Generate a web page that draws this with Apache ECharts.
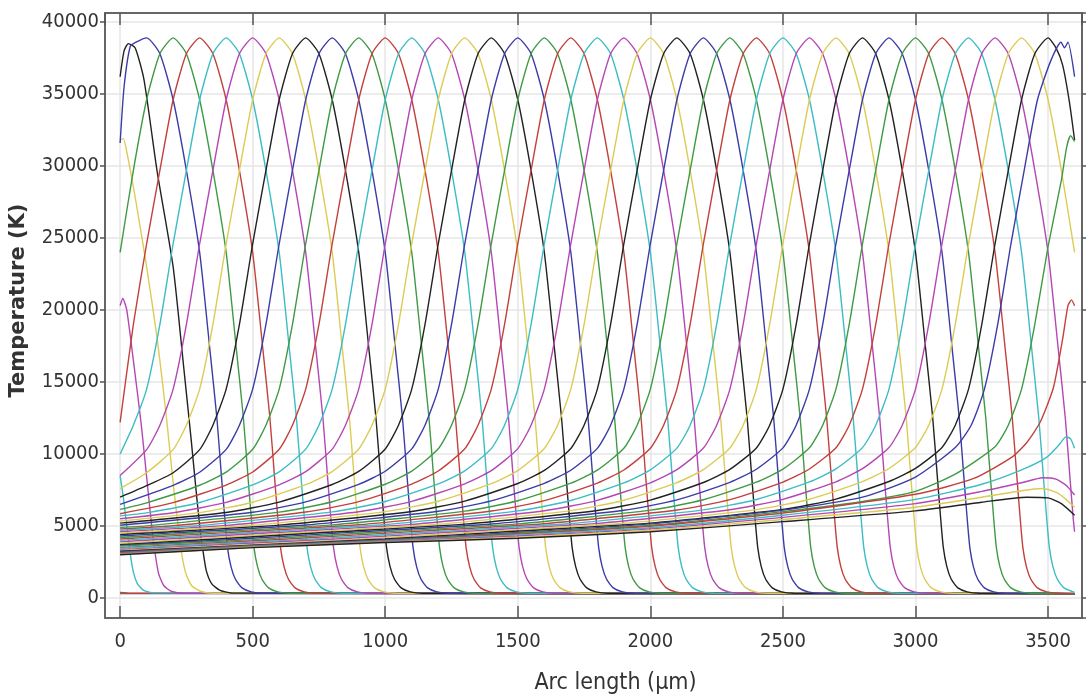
<!DOCTYPE html>
<html><head><meta charset="utf-8">
<script src="https://cdn.jsdelivr.net/npm/echarts@6/dist/echarts.min.js"></script>
<style>html,body{margin:0;padding:0;background:#fff}#c{width:1086px;height:694px}</style>
</head><body><div id="c"></div>
<script>
// ---- data: temperature profiles (x in µm, T in K), in time order ----
const S_blue=[[0,300],[3600,300]];
const S_green=[[0,320],[3600,310]];
const S_red=[[0,380],[40,330],[3600,310]];
const S_cyan=[[0,8500],[12,7000],[25,5000],[38,3100],[50,1800],[65,1000],[87,550],[120,360],[3600,310]];
const S_magenta=[[0,20300],[10,20800],[25,20000],[50,16500],[80,12000],[105,7500],[122,4500],[132,3100],[145,1700],[165,850],[195,450],[240,330],[3600,300]];
const S_yellow=[[0,31800],[12,31900],[25,31000],[60,27500],[100,23000],[140,18000],[175,12500],[200,8000],[220,4800],[232,3100],[248,1700],[270,850],[305,450],[350,330],[3600,300]];
const S_black=[[0,36200],[15,38000],[31,38500],[57,38200],[90,36000],[139,29700],[200,23000],[240,16000],[268,11000],[289,7000],[305,4200],[314,3100],[325,1900],[345,1000],[375,550],[420,350],[3600,300]];
const P100=[[0,31600],[15,35500],[38,38300],[60,38600],[100,38900],[150,37800],[200,34600],[250,29700],[300,24000],[340,17000],[365,12500],[382,8500],[395,5500],[405,3500],[418,2200],[435,1300],[460,700],[495,420],[540,330],[3600,300]];
const P200=[[0,24000],[50,29700],[100,34600],[150,37800],[200,38900],[250,37800],[300,34600],[350,29700],[400,24000],[440,17000],[465,12500],[482,8500],[495,5500],[505,3500],[518,2200],[535,1300],[560,700],[595,420],[640,330],[3600,300]];
const P300=[[0,12200],[50,19000],[100,24600],[150,29700],[200,34600],[250,37800],[300,38900],[350,37800],[400,34600],[450,29700],[500,24000],[540,17000],[565,12500],[582,8500],[595,5500],[605,3500],[618,2200],[635,1300],[660,700],[695,420],[740,330],[3600,300]];
const P400=[[0,10000],[50,12000],[100,14500],[150,19000],[200,24600],[250,29700],[300,34600],[350,37800],[400,38900],[450,37800],[500,34600],[550,29700],[600,24000],[640,17000],[665,12500],[682,8500],[695,5500],[705,3500],[718,2200],[735,1300],[760,700],[795,420],[840,330],[3600,300]];
const P500=[[0,8500],[100,10300],[150,12000],[200,14500],[250,19000],[300,24600],[350,29700],[400,34600],[450,37800],[500,38900],[550,37800],[600,34600],[650,29700],[700,24000],[740,17000],[765,12500],[782,8500],[795,5500],[805,3500],[818,2200],[835,1300],[860,700],[895,420],[940,330],[3600,300]];
const P600=[[0,7600],[100,8700],[200,10300],[250,12000],[300,14500],[350,19000],[400,24600],[450,29700],[500,34600],[550,37800],[600,38900],[650,37800],[700,34600],[750,29700],[800,24000],[840,17000],[865,12500],[882,8500],[895,5500],[905,3500],[918,2200],[935,1300],[960,700],[995,420],[1040,330],[3600,300]];
const P700=[[0,7000],[100,7800],[200,8700],[300,10300],[350,12000],[400,14500],[450,19000],[500,24600],[550,29700],[600,34600],[650,37800],[700,38900],[750,37800],[800,34600],[850,29700],[900,24000],[940,17000],[965,12500],[982,8500],[995,5500],[1005,3500],[1018,2200],[1035,1300],[1060,700],[1095,420],[1140,330],[3600,300]];
const P800=[[0,6500],[200,7820],[300,8730],[400,10320],[450,12000],[500,14500],[550,19000],[600,24600],[650,29700],[700,34600],[750,37800],[800,38900],[850,37800],[900,34600],[950,29700],[1000,24000],[1040,17000],[1065,12500],[1082,8500],[1095,5500],[1105,3500],[1118,2200],[1135,1300],[1160,700],[1195,420],[1240,330],[3600,300]];
const P900=[[0,6150],[100,6610],[300,7830],[400,8740],[500,10325],[550,12000],[600,14500],[650,19000],[700,24600],[750,29700],[800,34600],[850,37800],[900,38900],[950,37800],[1000,34600],[1050,29700],[1100,24000],[1140,17000],[1165,12500],[1182,8500],[1195,5500],[1205,3500],[1218,2200],[1235,1300],[1260,700],[1295,420],[1340,330],[3600,300]];
const P1000=[[0,5850],[200,6620],[400,7840],[500,8750],[600,10330],[650,12000],[700,14500],[750,19000],[800,24600],[850,29700],[900,34600],[950,37800],[1000,38900],[1050,37800],[1100,34600],[1150,29700],[1200,24000],[1240,17000],[1265,12500],[1282,8500],[1295,5500],[1305,3500],[1318,2200],[1335,1300],[1360,700],[1395,420],[1440,330],[3600,300]];
const P1100=[[0,5700],[100,5910],[300,6630],[500,7850],[600,8760],[700,10335],[750,12000],[800,14500],[850,19000],[900,24600],[950,29700],[1000,34600],[1050,37800],[1100,38900],[1150,37800],[1200,34600],[1250,29700],[1300,24000],[1340,17000],[1365,12500],[1382,8500],[1395,5500],[1405,3500],[1418,2200],[1435,1300],[1460,700],[1495,420],[1540,330],[3600,300]];
const P1200=[[0,5500],[200,5920],[400,6640],[600,7860],[700,8770],[800,10340],[850,12000],[900,14500],[950,19000],[1000,24600],[1050,29700],[1100,34600],[1150,37800],[1200,38900],[1250,37800],[1300,34600],[1350,29700],[1400,24000],[1440,17000],[1465,12500],[1482,8500],[1495,5500],[1505,3500],[1518,2200],[1535,1300],[1560,700],[1595,420],[1640,330],[3600,300]];
const P1300=[[0,5350],[300,5930],[500,6650],[700,7870],[800,8780],[900,10345],[950,12000],[1000,14500],[1050,19000],[1100,24600],[1150,29700],[1200,34600],[1250,37800],[1300,38900],[1350,37800],[1400,34600],[1450,29700],[1500,24000],[1540,17000],[1565,12500],[1582,8500],[1595,5500],[1605,3500],[1618,2200],[1635,1300],[1660,700],[1695,420],[1740,330],[3600,300]];
const P1400=[[0,5200],[400,5940],[600,6660],[800,7880],[900,8790],[1000,10350],[1050,12000],[1100,14500],[1150,19000],[1200,24600],[1250,29700],[1300,34600],[1350,37800],[1400,38900],[1450,37800],[1500,34600],[1550,29700],[1600,24000],[1640,17000],[1665,12500],[1682,8500],[1695,5500],[1705,3500],[1718,2200],[1735,1300],[1760,700],[1795,420],[1840,330],[3600,300]];
const P1500=[[0,5050],[500,5950],[700,6670],[900,7890],[1000,8800],[1100,10355],[1150,12000],[1200,14500],[1250,19000],[1300,24600],[1350,29700],[1400,34600],[1450,37800],[1500,38900],[1550,37800],[1600,34600],[1650,29700],[1700,24000],[1740,17000],[1765,12500],[1782,8500],[1795,5500],[1805,3500],[1818,2200],[1835,1300],[1860,700],[1895,420],[1940,330],[3600,300]];
const P1600=[[0,4900],[100,5010],[600,5960],[800,6680],[1000,7900],[1100,8810],[1200,10360],[1250,12000],[1300,14500],[1350,19000],[1400,24600],[1450,29700],[1500,34600],[1550,37800],[1600,38900],[1650,37800],[1700,34600],[1750,29700],[1800,24000],[1840,17000],[1865,12500],[1882,8500],[1895,5500],[1905,3500],[1918,2200],[1935,1300],[1960,700],[1995,420],[2040,330],[3600,300]];
const P1700=[[0,4800],[200,5020],[700,5970],[900,6690],[1100,7910],[1200,8820],[1300,10365],[1350,12000],[1400,14500],[1450,19000],[1500,24600],[1550,29700],[1600,34600],[1650,37800],[1700,38900],[1750,37800],[1800,34600],[1850,29700],[1900,24000],[1940,17000],[1965,12500],[1982,8500],[1995,5500],[2005,3500],[2018,2200],[2035,1300],[2060,700],[2095,420],[2140,330],[3600,300]];
const P1800=[[0,4700],[300,5030],[800,5980],[1000,6700],[1200,7920],[1300,8830],[1400,10370],[1450,12000],[1500,14500],[1550,19000],[1600,24600],[1650,29700],[1700,34600],[1750,37800],[1800,38900],[1850,37800],[1900,34600],[1950,29700],[2000,24000],[2040,17000],[2065,12500],[2082,8500],[2095,5500],[2105,3500],[2118,2200],[2135,1300],[2160,700],[2195,420],[2240,330],[3600,300]];
const P1900=[[0,4600],[400,5040],[900,5990],[1100,6710],[1300,7930],[1400,8840],[1500,10375],[1550,12000],[1600,14500],[1650,19000],[1700,24600],[1750,29700],[1800,34600],[1850,37800],[1900,38900],[1950,37800],[2000,34600],[2050,29700],[2100,24000],[2140,17000],[2165,12500],[2182,8500],[2195,5500],[2205,3500],[2218,2200],[2235,1300],[2260,700],[2295,420],[2340,330],[3600,300]];
const P2000=[[0,4500],[500,5050],[1000,6000],[1200,6720],[1400,7940],[1500,8850],[1600,10380],[1650,12000],[1700,14500],[1750,19000],[1800,24600],[1850,29700],[1900,34600],[1950,37800],[2000,38900],[2050,37800],[2100,34600],[2150,29700],[2200,24000],[2240,17000],[2265,12500],[2282,8500],[2295,5500],[2305,3500],[2318,2200],[2335,1300],[2360,700],[2395,420],[2440,330],[3600,300]];
const P2100=[[0,4400],[100,4510],[600,5060],[1100,6010],[1300,6730],[1500,7950],[1600,8860],[1700,10385],[1750,12000],[1800,14500],[1850,19000],[1900,24600],[1950,29700],[2000,34600],[2050,37800],[2100,38900],[2150,37800],[2200,34600],[2250,29700],[2300,24000],[2340,17000],[2365,12500],[2382,8500],[2395,5500],[2405,3500],[2418,2200],[2435,1300],[2460,700],[2495,420],[2540,330],[3600,300]];
const P2200=[[0,4300],[200,4520],[700,5070],[1200,6020],[1400,6740],[1600,7960],[1700,8870],[1800,10390],[1850,12000],[1900,14500],[1950,19000],[2000,24600],[2050,29700],[2100,34600],[2150,37800],[2200,38900],[2250,37800],[2300,34600],[2350,29700],[2400,24000],[2440,17000],[2465,12500],[2482,8500],[2495,5500],[2505,3500],[2518,2200],[2535,1300],[2560,700],[2595,420],[2640,330],[3600,300]];
const P2300=[[0,4200],[300,4530],[800,5080],[1300,6030],[1500,6750],[1700,7970],[1800,8880],[1900,10395],[1950,12000],[2000,14500],[2050,19000],[2100,24600],[2150,29700],[2200,34600],[2250,37800],[2300,38900],[2350,37800],[2400,34600],[2450,29700],[2500,24000],[2540,17000],[2565,12500],[2582,8500],[2595,5500],[2605,3500],[2618,2200],[2635,1300],[2660,700],[2695,420],[2740,330],[3600,300]];
const P2400=[[0,4100],[400,4540],[900,5090],[1400,6040],[1600,6760],[1800,7980],[1900,8890],[2000,10400],[2050,12000],[2100,14500],[2150,19000],[2200,24600],[2250,29700],[2300,34600],[2350,37800],[2400,38900],[2450,37800],[2500,34600],[2550,29700],[2600,24000],[2640,17000],[2665,12500],[2682,8500],[2695,5500],[2705,3500],[2718,2200],[2735,1300],[2760,700],[2795,420],[2840,330],[3600,300]];
const P2500=[[0,4000],[500,4550],[1000,5100],[1500,6050],[1700,6770],[1900,7990],[2000,8900],[2100,10405],[2150,12000],[2200,14500],[2250,19000],[2300,24600],[2350,29700],[2400,34600],[2450,37800],[2500,38900],[2550,37800],[2600,34600],[2650,29700],[2700,24000],[2740,17000],[2765,12500],[2782,8500],[2795,5500],[2805,3500],[2818,2200],[2835,1300],[2860,700],[2895,420],[2940,330],[3600,300]];
const P2600=[[0,3900],[100,4010],[600,4560],[1100,5110],[1600,6060],[1800,6780],[2000,8000],[2100,8910],[2200,10410],[2250,12000],[2300,14500],[2350,19000],[2400,24600],[2450,29700],[2500,34600],[2550,37800],[2600,38900],[2650,37800],[2700,34600],[2750,29700],[2800,24000],[2840,17000],[2865,12500],[2882,8500],[2895,5500],[2905,3500],[2918,2200],[2935,1300],[2960,700],[2995,420],[3040,330],[3600,300]];
const P2700=[[0,3800],[200,4020],[700,4570],[1200,5120],[1700,6070],[1900,6790],[2100,8010],[2200,8920],[2300,10415],[2350,12000],[2400,14500],[2450,19000],[2500,24600],[2550,29700],[2600,34600],[2650,37800],[2700,38900],[2750,37800],[2800,34600],[2850,29700],[2900,24000],[2940,17000],[2965,12500],[2982,8500],[2995,5500],[3005,3500],[3018,2200],[3035,1300],[3060,700],[3095,420],[3140,330],[3600,300]];
const P2800=[[0,3700],[300,4030],[800,4580],[1300,5130],[1800,6080],[2000,6800],[2200,8020],[2300,8930],[2400,10420],[2450,12000],[2500,14500],[2550,19000],[2600,24600],[2650,29700],[2700,34600],[2750,37800],[2800,38900],[2850,37800],[2900,34600],[2950,29700],[3000,24000],[3040,17000],[3065,12500],[3082,8500],[3095,5500],[3105,3500],[3118,2200],[3135,1300],[3160,700],[3195,420],[3240,330],[3600,300]];
const P2900=[[0,3650],[400,4040],[900,4590],[1400,5140],[1900,6090],[2100,6810],[2300,8030],[2400,8940],[2500,10425],[2550,12000],[2600,14500],[2650,19000],[2700,24600],[2750,29700],[2800,34600],[2850,37800],[2900,38900],[2950,37800],[3000,34600],[3050,29700],[3100,24000],[3140,17000],[3165,12500],[3182,8500],[3195,5500],[3205,3500],[3218,2200],[3235,1300],[3260,700],[3295,420],[3340,330],[3600,300]];
const P3000=[[0,3600],[500,4050],[1000,4600],[1500,5150],[2000,6100],[2200,6820],[2400,8040],[2500,8950],[2600,10430],[2650,12000],[2700,14500],[2750,19000],[2800,24600],[2850,29700],[2900,34600],[2950,37800],[3000,38900],[3050,37800],[3100,34600],[3150,29700],[3200,24000],[3240,17000],[3265,12500],[3282,8500],[3295,5500],[3305,3500],[3318,2200],[3335,1300],[3360,700],[3395,420],[3440,330],[3600,300]];
const P3100=[[0,3500],[600,4060],[1100,4610],[1600,5160],[2100,6110],[2300,6830],[2500,8050],[2600,8960],[2700,10435],[2750,12000],[2800,14500],[2850,19000],[2900,24600],[2950,29700],[3000,34600],[3050,37800],[3100,38900],[3150,37800],[3200,34600],[3250,29700],[3300,24000],[3340,17000],[3365,12500],[3382,8500],[3395,5500],[3405,3500],[3418,2200],[3435,1300],[3460,700],[3495,420],[3540,330],[3600,300]];
const P3200=[[0,3450],[700,4070],[1200,4620],[1700,5170],[2200,6120],[2400,6840],[2600,8060],[2700,8970],[2800,10440],[2850,12000],[2900,14500],[2950,19000],[3000,24600],[3050,29700],[3100,34600],[3150,37800],[3200,38900],[3250,37800],[3300,34600],[3350,29700],[3400,24000],[3440,17000],[3465,12500],[3482,8500],[3495,5500],[3505,3500],[3518,2200],[3535,1300],[3560,700],[3595,420],[3600,400]];
const P3300=[[0,3350],[800,4080],[1300,4630],[1800,5180],[2300,6130],[2500,6850],[2700,8070],[2800,8980],[2900,10445],[2950,12000],[3000,14500],[3050,19000],[3100,24600],[3150,29700],[3200,34600],[3250,37800],[3300,38900],[3350,37800],[3400,34600],[3450,29700],[3500,24000],[3540,17000],[3565,12500],[3582,8500],[3595,5500],[3600,4600]];
const P3400=[[0,3300],[900,4090],[1400,4640],[1900,5190],[2400,6140],[2600,6860],[2800,8080],[2900,8990],[3000,10450],[3050,12000],[3100,14500],[3150,19000],[3200,24600],[3250,29700],[3300,34600],[3350,37800],[3400,38900],[3450,37800],[3500,34600],[3550,29700],[3600,24000]];
const P3500=[[0,3250],[1000,4100],[1500,4650],[2000,5200],[2500,6150],[2700,6870],[2900,8090],[3000,9000],[3100,10455],[3150,12000],[3200,14500],[3250,19000],[3300,24600],[3350,29700],[3400,34600],[3450,37800],[3500,38900],[3530,38200],[3555,37000],[3580,34500],[3600,31800]];
const E_blue=[[0,3220],[500,3650],[1000,4050],[1500,4550],[2000,5150],[2500,6100],[2800,7000],[3000,8400],[3150,10450],[3210,12000],[3260,14500],[3310,19000],[3360,24600],[3410,29700],[3460,34600],[3510,37300],[3549,38600],[3562,38200],[3575,38600],[3600,36200]];
const E_green=[[0,3150],[500,3620],[1000,4000],[1500,4500],[2000,5050],[2500,6000],[2800,6700],[3000,7400],[3150,8600],[3300,10500],[3350,12000],[3400,14500],[3450,19000],[3500,24400],[3550,29000],[3570,31300],[3585,32100],[3600,31700]];
const E_red=[[0,3120],[500,3590],[1000,3970],[1500,4440],[2000,4980],[2500,5900],[3000,7200],[3220,8300],[3365,9800],[3420,10800],[3470,12200],[3520,14600],[3555,18000],[3575,20300],[3588,20700],[3600,20300]];
const E_cyan=[[0,3080],[500,3560],[1000,3940],[1500,4380],[2000,4880],[2500,5750],[3000,6850],[3250,7900],[3400,8900],[3493,9750],[3540,10600],[3568,11200],[3585,11050],[3600,10400]];
const E_magenta=[[0,3050],[500,3530],[1000,3910],[1500,4300],[2000,4800],[2500,5600],[3000,6550],[3250,7400],[3400,8000],[3480,8350],[3530,8250],[3570,7800],[3600,7150]];
const E_yellow=[[0,3020],[500,3510],[1000,3880],[1500,4220],[2000,4700],[2500,5450],[3000,6300],[3250,7000],[3400,7450],[3480,7600],[3540,7250],[3600,6300]];
const E_black=[[0,3000],[500,3500],[1000,3850],[1500,4150],[2000,4600],[2500,5300],[3000,6050],[3250,6650],[3420,7000],[3500,6950],[3550,6550],[3600,5750]];

const curves=[S_blue,S_green,S_red,S_cyan,S_magenta,S_yellow,S_black,
 P100,P200,P300,P400,P500,P600,P700,P800,P900,P1000,P1100,P1200,P1300,P1400,P1500,P1600,P1700,P1800,P1900,P2000,
 P2100,P2200,P2300,P2400,P2500,P2600,P2700,P2800,P2900,P3000,P3100,P3200,P3300,P3400,P3500,
 E_blue,E_green,E_red,E_cyan,E_magenta,E_yellow,E_black];
const colorCycle=['#3c3ca8','#3f9a45','#c2413c','#3cbcc4','#b447b4','#dccb55','#222222'];
const xTitle='Arc length (µm)';
const yTitle='Temperature (K)';

const font="'DejaVu Sans Condensed','DejaVu Sans',sans-serif";
const chart=echarts.init(document.getElementById('c'),null,{renderer:'canvas'});
const frame={show:true,onZero:false,lineStyle:{color:'#666',width:2}};
const grid={show:true,lineStyle:{color:'#e6e6e6',width:1.5}};
const plain=v=>String(v);
chart.setOption({
  animation:false,
  backgroundColor:'#fff',
  grid:{left:105,right:4,top:13,bottom:76,containLabel:false,outerBoundsMode:'none'},
  xAxis:[{type:'value',position:'bottom',min:-57,max:3628,minInterval:500,maxInterval:500,
    axisLine:frame,axisTick:{inside:true,length:12,lineStyle:{color:'#555',width:1.5}},
    axisLabel:{showMinLabel:false,showMaxLabel:false,fontSize:20,color:'#333',margin:14,fontFamily:font,formatter:plain},
    splitLine:grid,
    name:xTitle,nameLocation:'middle',nameGap:54,
    nameTextStyle:{fontSize:23,color:'#333',fontFamily:font,padding:[0,0,0,44]}},
   {type:'value',position:'top',min:-57,max:3628,minInterval:500,maxInterval:500,
    axisLine:frame,axisTick:{inside:true,length:12,lineStyle:{color:'#555',width:1.5}},
    axisLabel:{show:false},splitLine:{show:false}}],
  yAxis:[{type:'value',position:'left',min:-1390,max:40625,minInterval:5000,maxInterval:5000,
    axisLine:frame,axisTick:{inside:false,length:5,lineStyle:{color:'#555',width:1.5}},
    axisLabel:{showMinLabel:false,showMaxLabel:false,fontSize:20,color:'#333',margin:6,fontFamily:font,formatter:plain},
    splitLine:grid,
    name:yTitle,nameLocation:'middle',nameRotate:90,nameGap:76,
    nameTextStyle:{fontSize:21,fontWeight:'bold',color:'#333',fontFamily:"'DejaVu Sans',sans-serif",padding:[0,0,0,30]}},
   {type:'value',position:'right',min:-1390,max:40625,minInterval:5000,maxInterval:5000,
    axisLine:frame,axisTick:{inside:false,length:5,lineStyle:{color:'#555',width:1.5}},
    axisLabel:{show:false},splitLine:{show:false}}],
  series:curves.map((d,i)=>({type:'line',data:d,xAxisIndex:0,yAxisIndex:0,showSymbol:false,
    smooth:0.2,silent:true,
    lineStyle:{color:colorCycle[i%7],width:1.4},itemStyle:{color:colorCycle[i%7]}}))
});
</script></body></html>
